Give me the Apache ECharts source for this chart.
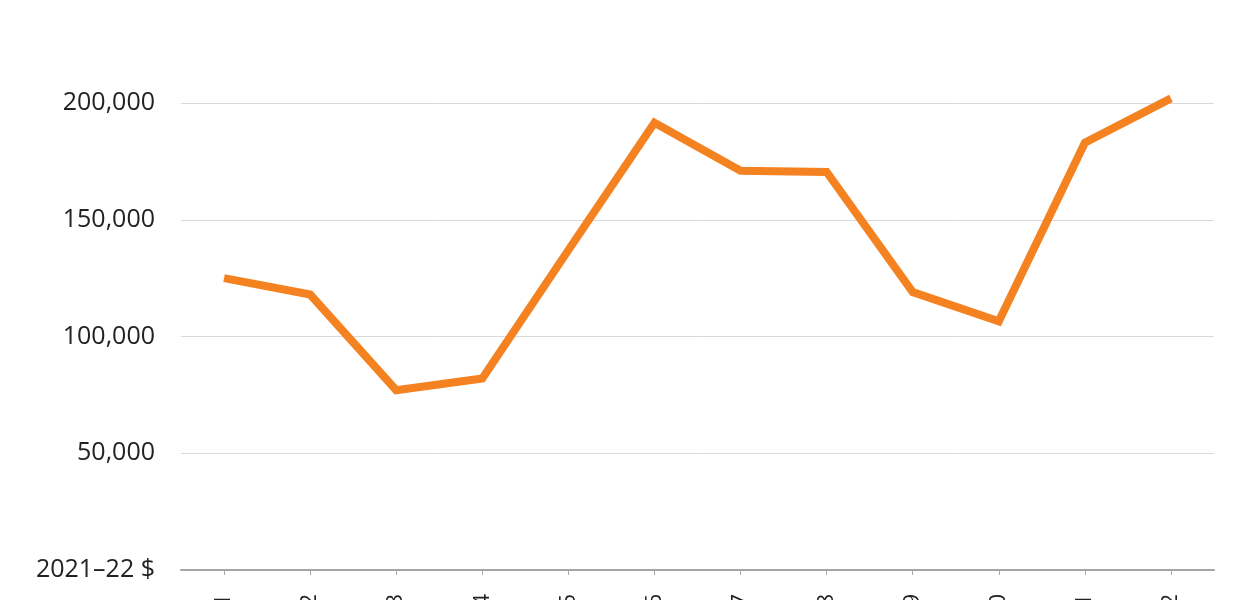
<!DOCTYPE html>
<html>
<head>
<meta charset="utf-8">
<script src="https://cdn.jsdelivr.net/npm/echarts@6/dist/echarts.min.js"></script>
<style>
html,body{margin:0;padding:0;background:#fff;}
#chart{width:1260px;height:600px;}
</style>
</head>
<body>
<div id="chart"></div>
<script>
const categories = ['2010–11','2011–12','2012–13','2013–14','2014–15','2015–16','2016–17','2017–18','2018–19','2019–20','2020–21','2021–22'];
const values = [125000, 118000, 77000, 82000, 137000, 191500, 171000, 170500, 119000, 106500, 183000, 202000];
const yTicks = [0, 50000, 100000, 150000, 200000];
const zeroLabel = '2021–22 $';

const chart = echarts.init(document.getElementById('chart'), null, {renderer: 'canvas'});
chart.setOption({
  animation: false,
  backgroundColor: '#ffffff',
  grid: {left: 181, right: 46, top: 103, bottom: 30, containLabel: false, outerBoundsMode: 'none'},
  xAxis: {
    type: 'category',
    data: categories,
    boundaryGap: true,
    axisLine: {show: true, lineStyle: {color: '#a6a6a6', width: 2}},
    axisTick: {show: true, alignWithLabel: true, length: 5, lineStyle: {color: '#a6a6a6', width: 1}},
    axisLabel: {rotate: 90, margin: 24, fontFamily: 'Open Sans', fontSize: 22, color: '#222', hideOverlap: false},
    splitLine: {show: false}
  },
  yAxis: {
    type: 'value',
    min: yTicks[0],
    max: yTicks[yTicks.length - 1],
    interval: 50000,
    axisLine: {show: false},
    axisTick: {show: false},
    axisLabel: {
      margin: 26,
      fontFamily: 'Open Sans',
      fontSize: 25,
      color: '#222',
      formatter: function (v) { return v === 0 ? zeroLabel : v.toLocaleString('en-US'); }
    },
    splitLine: {show: true, lineStyle: {color: '#d9d9d9', width: 1}}
  },
  series: [{
    type: 'line',
    data: values,
    clip: false,
    symbol: 'none',
    lineStyle: {color: '#F58220', width: 8, join: 'miter'},
    itemStyle: {color: '#F58220'}
  }]
});
</script>
</body>
</html>
